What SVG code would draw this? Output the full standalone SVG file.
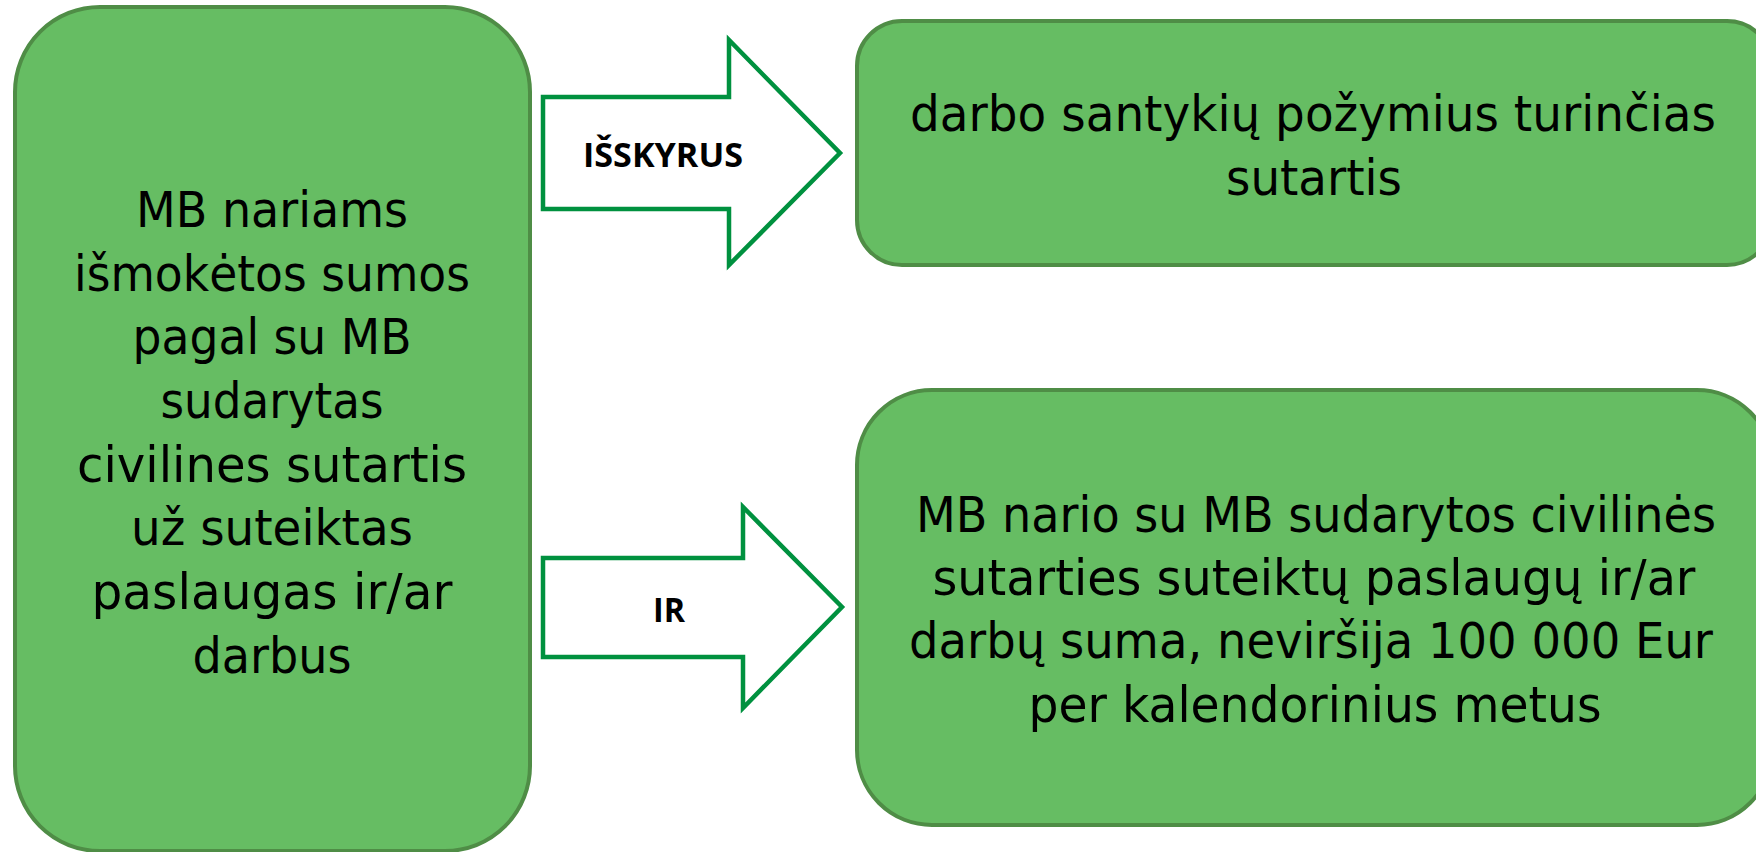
<svg xmlns="http://www.w3.org/2000/svg" width="1756" height="852" viewBox="0 0 1756 852">
<style>
.box{fill:#66bd63;stroke:#4f8d46;stroke-width:4}
.arrow{fill:#ffffff;stroke:#00913f;stroke-width:4.5}
.t{font-family:"DejaVu Sans",sans-serif;font-size:49px;fill:#000;text-anchor:middle}
.lbl{font-family:"Open Sans","Liberation Sans",sans-serif;font-weight:bold;font-size:34px;fill:#000;text-anchor:middle}
</style>
<rect width="1756" height="852" fill="#ffffff"/>
<g id="node-left">
<rect class="box" x="15" y="7" width="515" height="844" rx="85" ry="85"/>
<text class="t" x="272" y="227" textLength="272" lengthAdjust="spacingAndGlyphs">MB nariams</text>
<text class="t" x="272" y="291" textLength="396" lengthAdjust="spacingAndGlyphs">išmokėtos sumos</text>
<text class="t" x="272" y="354" textLength="279" lengthAdjust="spacingAndGlyphs">pagal su MB</text>
<text class="t" x="272" y="418" textLength="223" lengthAdjust="spacingAndGlyphs">sudarytas</text>
<text class="t" x="272" y="482" textLength="390" lengthAdjust="spacingAndGlyphs">civilines sutartis</text>
<text class="t" x="272" y="545" textLength="282" lengthAdjust="spacingAndGlyphs">už suteiktas</text>
<text class="t" x="272" y="609" textLength="361" lengthAdjust="spacingAndGlyphs">paslaugas ir/ar</text>
<text class="t" x="272" y="673" textLength="159" lengthAdjust="spacingAndGlyphs">darbus</text>
</g>
<g id="connectors">
<g id="arrow-isskyrus">
<polygon class="arrow" points="543,97 729,97 729,40 840,153 729,265 729,209 543,209"/>
<text class="lbl" x="663" y="167" font-size="35" textLength="160" lengthAdjust="spacingAndGlyphs">IŠSKYRUS</text>
</g>
<g id="arrow-ir">
<polygon class="arrow" points="543,558 743,558 743,507 842,607 743,708 743,657 543,657"/>
<text class="lbl" x="669" y="622" font-size="32" textLength="32" lengthAdjust="spacingAndGlyphs">IR</text>
</g>
</g>
<g id="node-top-right">
<rect class="box" x="857" y="21" width="915" height="244" rx="45" ry="45"/>
<text class="t" x="1313" y="131" textLength="806" lengthAdjust="spacingAndGlyphs">darbo santykių požymius turinčias</text>
<text class="t" x="1314" y="195" textLength="176" lengthAdjust="spacingAndGlyphs">sutartis</text>
</g>
<g id="node-bottom-right">
<rect class="box" x="857" y="390" width="915" height="435" rx="75" ry="75"/>
<text class="t" x="1316" y="532" textLength="800" lengthAdjust="spacingAndGlyphs">MB nario su MB sudarytos civilinės</text>
<text class="t" x="1314" y="595" textLength="763" lengthAdjust="spacingAndGlyphs">sutarties suteiktų paslaugų ir/ar</text>
<text class="t" x="1311" y="658" textLength="804" lengthAdjust="spacingAndGlyphs">darbų suma, neviršija 100 000 Eur</text>
<text class="t" x="1315" y="722" textLength="573" lengthAdjust="spacingAndGlyphs">per kalendorinius metus</text>
</g>
</svg>
